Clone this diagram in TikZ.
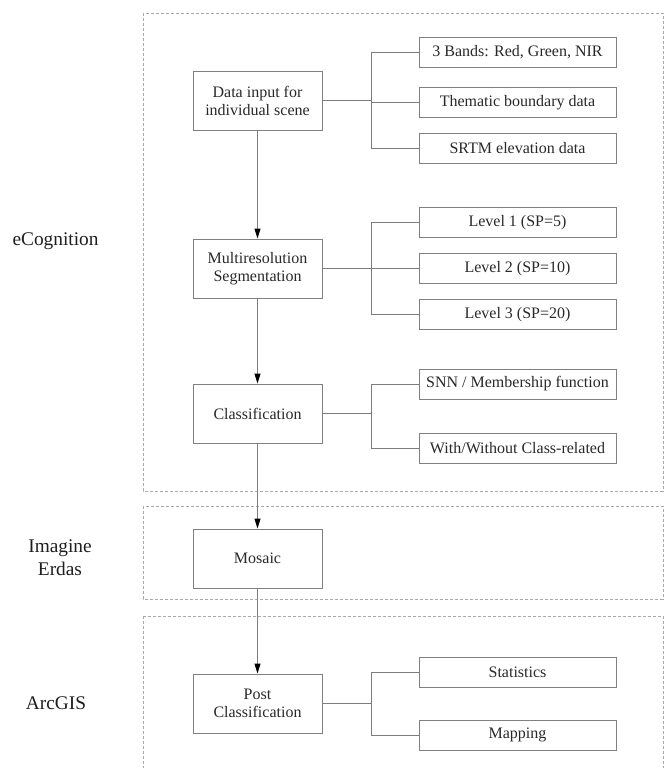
\documentclass[tikz,border=0pt]{standalone}
\usepackage{fontspec}
\setmainfont{Liberation Serif}
\usetikzlibrary{arrows.meta}

\begin{document}
\begin{tikzpicture}[x=0.75pt,y=0.75pt,yscale=-1,xscale=1,
  procbox/.style={draw={rgb,255:red,128;green,128;blue,128}, line width=0.75, minimum width=96.75pt, minimum height=44.25pt, inner sep=0.75pt, align=center, text={rgb,255:red,40;green,40;blue,40}, font=\fontsize{12}{13.5}\selectfont},
  databox/.style={procbox, minimum width=147.75pt, minimum height=22.5pt},
  toollabel/.style={inner sep=0.75pt, align=center, text={rgb,255:red,30;green,30;blue,30}, font=\fontsize{14.5}{17.3}\selectfont},
  groupframe/.style={draw={rgb,255:red,170;green,170;blue,170}, line width=0.75, dash pattern={on 2.25pt off 1.5pt}},
  link/.style={draw={rgb,255:red,125;green,125;blue,125}, line width=0.75},
  flow/.style={link, -{Triangle[length=7.5pt,width=4.5pt,color=black]}}]
\useasboundingbox (0,0) rectangle (666,768);

%Dashed frames
\draw [groupframe] (143,13) rectangle (663,491);
\draw [groupframe] (143,506) rectangle (663,599);
\draw [groupframe] (143,616) rectangle (663,800);

% Text Node
\node [toollabel] (ecog) at (55.5,241) {eCognition};
% Text Node
\node [toollabel] (erdas) at (60,558) {Imagine\\Erdas};
% Text Node
\node [toollabel] (arcgis) at (56,703) {ArcGIS};

%Main steps
\node [procbox] (data) at (257.5,100.5) {Data input for\\individual scene};
\node [procbox] (multi) at (257.5,268.5) {Multiresolution\\Segmentation};
\node [procbox] (classif) at (257.5,413.5) {Classification};
\node [procbox] (mosaic) at (257.5,558.5) {Mosaic};
\node [procbox] (post) at (257.5,703.5) {Post\\Classification};

%Side boxes
\node [databox] (bands) at (517.5,52) {3 Bands: Red, Green, NIR};
\node [databox] (thematic) at (517.5,102.5) {Thematic boundary data};
\node [databox] (srtm) at (517.5,148.5) {SRTM elevation data};
\node [databox] (lvlone) at (517.5,222.5) {Level 1 (SP=5)};
\node [databox] (lvltwo) at (517.5,268.5) {Level 2 (SP=10)};
\node [databox] (lvlthree) at (517.5,314.5) {Level 3 (SP=20)};
\node [databox] (snn) at (517.5,384) {SNN / Membership function};
\node [databox] (withcls) at (517.5,448) {With/Without Class-related};
\node [databox] (stats) at (517.5,672) {Statistics};
\node [databox] (mapping) at (517.5,735) {Mapping};

%Branch points
\coordinate (brdata) at (371,100.5);
\coordinate (brmulti) at (371,268.5);
\coordinate (brclassif) at (371,413.5);
\coordinate (brpost) at (371,703.5);

%Branch lines
\draw [link] (data.east) -- (brdata) |- (bands.west);
\draw [link] (brdata) |- (thematic.west);
\draw [link] (brdata) |- (srtm.west);
\draw [link] (multi.east) -- (brmulti) |- (lvlone.west);
\draw [link] (brmulti) |- (lvltwo.west);
\draw [link] (brmulti) |- (lvlthree.west);
\draw [link] (classif.east) -- (brclassif) |- (snn.west);
\draw [link] (brclassif) |- (withcls.west);
\draw [link] (post.east) -- (brpost) |- (stats.west);
\draw [link] (brpost) |- (mapping.west);

%Flow arrows
\draw [flow] (data) -- (multi);
\draw [flow] (multi) -- (classif);
\draw [flow] (classif) -- (mosaic);
\draw [flow] (mosaic) -- (post);
\end{tikzpicture}
\end{document}
